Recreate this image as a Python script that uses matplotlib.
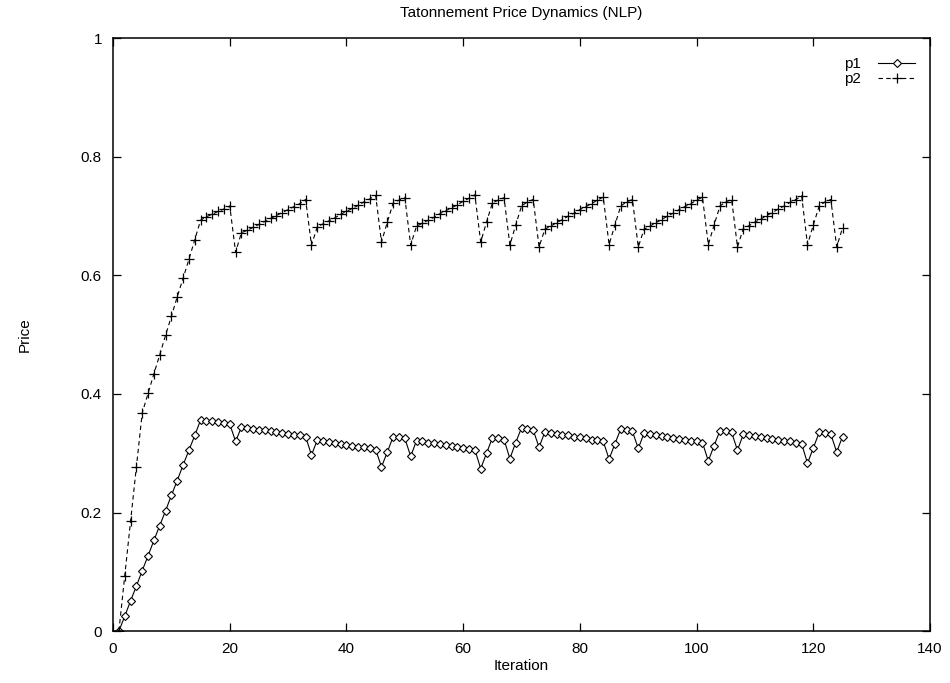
import numpy as np
import matplotlib.pyplot as plt

plt.rcParams['font.family'] = ['Liberation Sans', 'DejaVu Sans']

# iteration numbers
iters = list(range(1, 126))

# price of good 1
p1 = [0.000, 0.025, 0.051, 0.076, 0.102, 0.127, 0.153, 0.178, 0.203, 0.229,
      0.254, 0.280, 0.305, 0.330, 0.356,
      0.355, 0.354, 0.352, 0.351, 0.349,
      0.320,
      0.344, 0.343, 0.341, 0.340, 0.339, 0.337, 0.336, 0.334, 0.333, 0.331, 0.330, 0.328,
      0.297,
      0.322, 0.320, 0.319, 0.317, 0.316, 0.314, 0.313, 0.311, 0.310, 0.308, 0.306,
      0.277, 0.302, 0.328, 0.327, 0.325,
      0.295,
      0.321, 0.320, 0.318, 0.317, 0.315, 0.314, 0.312, 0.311, 0.309, 0.307, 0.306,
      0.274, 0.300, 0.326, 0.325, 0.323,
      0.291, 0.318, 0.343, 0.341, 0.339,
      0.310,
      0.336, 0.334, 0.333, 0.331, 0.330, 0.328, 0.327, 0.325, 0.323, 0.322, 0.320,
      0.290, 0.316, 0.341, 0.339, 0.337,
      0.308,
      0.334, 0.332, 0.331, 0.329, 0.328, 0.326, 0.324, 0.323, 0.321, 0.320, 0.318,
      0.287, 0.313, 0.338, 0.337, 0.335,
      0.305,
      0.332, 0.331, 0.329, 0.327, 0.326, 0.324, 0.323, 0.321, 0.320, 0.318, 0.316,
      0.283, 0.309, 0.335, 0.334, 0.332,
      0.302, 0.328]

# price of good 2
p2 = [0.000, 0.093, 0.185, 0.277, 0.368, 0.401, 0.434, 0.466, 0.499, 0.531,
      0.564, 0.595, 0.627, 0.660, 0.693,
      0.699, 0.703, 0.708, 0.712, 0.717,
      0.639,
      0.672, 0.676, 0.681, 0.686, 0.691, 0.696, 0.701, 0.706, 0.711, 0.716, 0.721, 0.728,
      0.651,
      0.682, 0.687, 0.692, 0.697, 0.703, 0.708, 0.713, 0.718, 0.724, 0.729, 0.735,
      0.656, 0.690, 0.722, 0.727, 0.731,
      0.651,
      0.683, 0.688, 0.693, 0.698, 0.704, 0.709, 0.714, 0.719, 0.725, 0.730, 0.736,
      0.656, 0.690, 0.722, 0.727, 0.731,
      0.651, 0.685, 0.717, 0.724, 0.728,
      0.648,
      0.678, 0.683, 0.689, 0.694, 0.700, 0.705, 0.711, 0.716, 0.721, 0.727, 0.732,
      0.652, 0.685, 0.717, 0.724, 0.728,
      0.648,
      0.678, 0.683, 0.689, 0.694, 0.700, 0.705, 0.711, 0.716, 0.721, 0.727, 0.732,
      0.652, 0.685, 0.717, 0.724, 0.728,
      0.648,
      0.679, 0.684, 0.690, 0.695, 0.701, 0.706, 0.712, 0.717, 0.723, 0.728, 0.734,
      0.652, 0.685, 0.717, 0.724, 0.728,
      0.648, 0.680]

xticks = [0, 20, 40, 60, 80, 100, 120, 140]
yticks = [0, 0.2, 0.4, 0.6, 0.8, 1]
ytick_labels = ['0', '0.2', '0.4', '0.6', '0.8', '1']

fig = plt.figure(figsize=(9.5, 6.83), dpi=100)
ax = fig.add_axes([0.119, 0.076, 0.860, 0.868])

ax.plot(iters, p1, color='black', linewidth=0.8, marker='D', markersize=4.4,
        markerfacecolor='white', markeredgecolor='black', markeredgewidth=0.8,
        label='p1')
ax.plot(iters, p2, color='black', linewidth=0.8, linestyle=(0, (4, 3)),
        marker='+', markersize=6.5, markeredgewidth=0.9, label='p2')

ax.set_xlim(0, 140)
ax.set_ylim(0, 1)
ax.set_xticks(xticks)
ax.set_yticks(yticks)
ax.set_yticklabels(ytick_labels)
ax.tick_params(direction='in', length=6, width=0.9, top=True, right=True,
               labelsize=11, pad=8)
for s in ax.spines.values():
    s.set_linewidth(1.1)

ax.set_title('Tatonnement Price Dynamics (NLP)', fontsize=11, pad=15)
ax.set_xlabel('Iteration', fontsize=11, labelpad=2)
ax.set_ylabel('Price', fontsize=11, labelpad=35)

leg = ax.legend(loc='upper right', bbox_to_anchor=(0.989, 0.978),
                frameon=False, markerfirst=False, fontsize=11,
                handlelength=2.4, handletextpad=1.15, labelspacing=0.05,
                borderaxespad=0)

fig.savefig('out.png', dpi=100)
